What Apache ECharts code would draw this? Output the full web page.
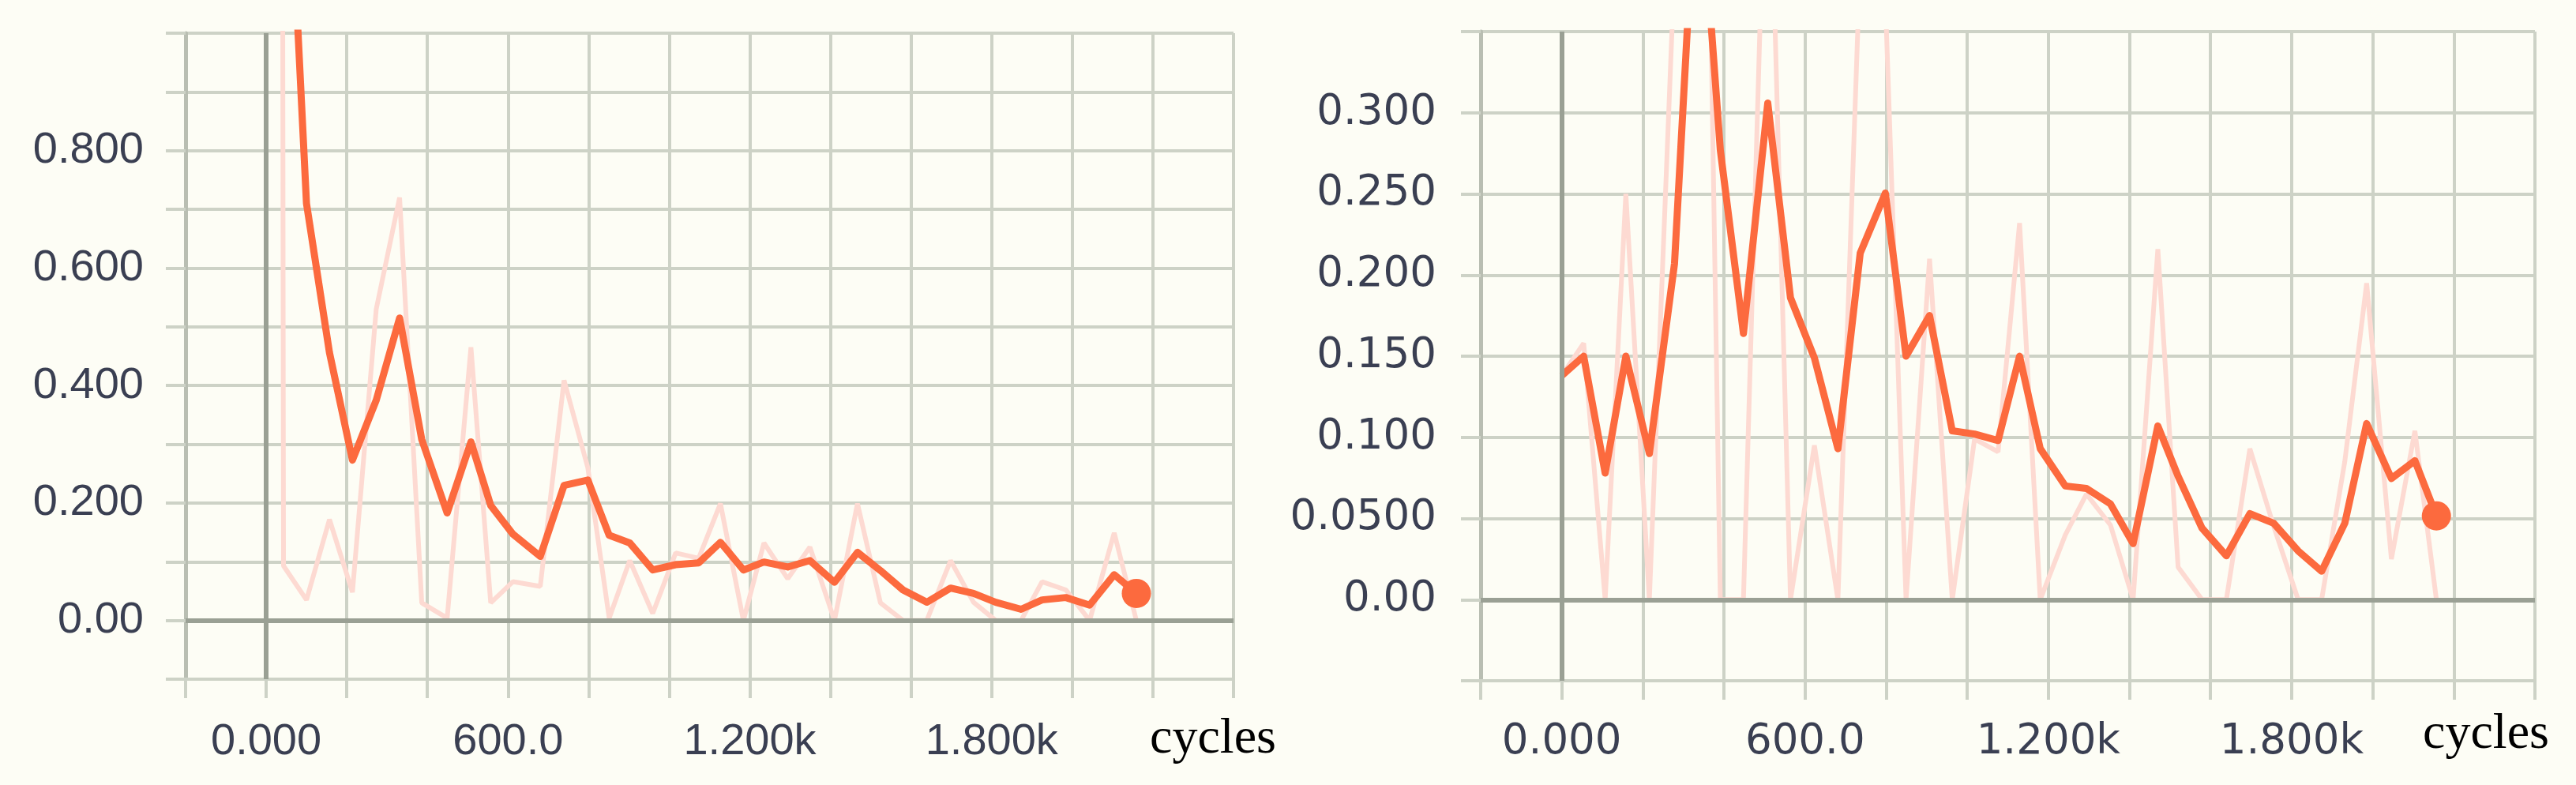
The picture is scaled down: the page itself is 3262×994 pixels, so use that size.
<!DOCTYPE html>
<html>
<head>
<meta charset="utf-8">
<script src="https://cdn.jsdelivr.net/npm/echarts@6/dist/echarts.min.js"></script>
<style>
  html, body { margin: 0; padding: 0; background: #fdfdf5; }
  #chart { width: 3262px; height: 994px; }
</style>
</head>
<body>
<div id="chart"></div>
<script>
// left panel
var leftSteps = [37, 43, 100, 157, 214, 273, 331, 386, 449, 508, 557, 612, 680, 739, 798, 851, 902, 959, 1016, 1073,
  1127, 1184, 1235, 1294, 1349, 1410, 1467, 1524, 1580, 1639, 1698, 1755, 1810, 1873, 1925, 1984, 2043, 2104, 2159]
var leftRaw = [3.0, 0.093, 0.035, 0.172, 0.048, 0.53, 0.72, 0.03, 0.004, 0.465, 0.03, 0.066, 0.058, 0.409, 0.26, 0.004, 0.102, 0.012, 0.115, 0.106,
  0.199, 0.0, 0.132, 0.071, 0.125, 0.0, 0.199, 0.03, 0.0, 0.0, 0.102, 0.031, 0.0, 0.0, 0.066, 0.052, 0.0, 0.149, 0.0]
var leftSmooth = [3.0, 1.5, 0.71, 0.456, 0.273, 0.375, 0.515, 0.308, 0.183, 0.304, 0.196, 0.147, 0.109, 0.230, 0.239, 0.145, 0.132, 0.086, 0.095, 0.098,
  0.133, 0.086, 0.0995, 0.091, 0.102, 0.065, 0.116, 0.085, 0.052, 0.031, 0.055, 0.046, 0.031, 0.019, 0.035, 0.039, 0.026, 0.078, 0.046]
var leftYTicks = [0, 0.2, 0.4, 0.6, 0.8]
var leftYLabels = ['0.00', '0.200', '0.400', '0.600', '0.800']

// right panel
var rightSteps = [0, 54, 107, 158, 216, 278, 335, 391, 448, 508, 564, 623, 681, 736, 798, 849, 907, 963, 1018, 1076,
  1129, 1180, 1242, 1294, 1353, 1409, 1470, 1520, 1579, 1639, 1697, 1756, 1816, 1874, 1931, 1985, 2046, 2104, 2157]
var rightRaw = [0.138, 0.158, 0.0, 0.25, 0.0, 0.39, 0.86, 0.0, 0.0, 0.52, 0.0, 0.095, 0.0, 0.394, 0.37, 0.0, 0.21, 0.0, 0.099, 0.091,
  0.232, 0.0, 0.04, 0.065, 0.046, 0.0, 0.216, 0.02, 0.0, 0.0, 0.093, 0.045, 0.0, 0.0, 0.085, 0.195, 0.025, 0.104, 0.0]
var rightSmooth = [0.138, 0.150, 0.078, 0.150, 0.090, 0.207, 0.468, 0.277, 0.164, 0.306, 0.186, 0.149, 0.093, 0.2135, 0.2505, 0.150, 0.175, 0.104, 0.102, 0.098,
  0.150, 0.093, 0.070, 0.0685, 0.059, 0.0345, 0.107, 0.076, 0.044, 0.027, 0.053, 0.047, 0.030, 0.0175, 0.047, 0.1085, 0.0746, 0.0856, 0.0516]
var rightYTicks = [0, 0.05, 0.1, 0.15, 0.2, 0.25, 0.3]
var rightYLabels = ['0.00', '0.0500', '0.100', '0.150', '0.200', '0.250', '0.300']

// shared x ticks
var xTicks = [0, 600, 1200, 1800]
var xLabels = ['0.000', '600.0', '1.200k', '1.800k']
var xName = 'cycles'

var gridColor = '#cdd2c6'
var zeroColor = '#9aa094'
var labelColor = '#3a3f52'
var smoothColor = '#fc6a3e'
var rawColor = '#fddad2'

function pick(ticks, labels) {
  return function (v) {
    for (var i = 0; i < ticks.length; i++) {
      if (Math.abs(ticks[i] - v) < 1e-9) return labels[i]
    }
    return ''
  }
}

function zip(xs, ys) {
  return xs.map(function (x, i) { return [x, ys[i]] })
}

function xAxisOf(idx, font, size) {
  return {
    gridIndex: idx, type: 'value', min: -200, max: 2400, interval: 200,
    axisLine: { show: true, onZero: false, lineStyle: { color: gridColor, width: 4 } },
    axisTick: { show: true, length: 24, lineStyle: { color: gridColor, width: 4 } },
    splitLine: { show: true, lineStyle: { color: gridColor, width: 4 } },
    axisLabel: { color: labelColor, fontFamily: font, fontSize: size, margin: 52, formatter: pick(xTicks, xLabels) }
  }
}

function yAxisOf(idx, min, max, interval, ticks, labels, font, size, margin) {
  return {
    gridIndex: idx, type: 'value', min: min, max: max, interval: interval,
    axisLine: { show: true, onZero: false, lineStyle: { color: '#b9beb2', width: 5 } },
    axisTick: { show: true, length: 25, lineStyle: { color: gridColor, width: 4 } },
    splitLine: { show: true, lineStyle: { color: gridColor, width: 4 } },
    axisLabel: { color: labelColor, fontFamily: font, fontSize: size, margin: margin, formatter: pick(ticks, labels) }
  }
}

function panelSeries(idx, steps, raw, smooth) {
  var last = steps.length - 1
  return [
    {
      type: 'line', xAxisIndex: idx, yAxisIndex: idx, data: [], z: 1, silent: true,
      markLine: {
        symbol: 'none', silent: true, animation: false, label: { show: false },
        lineStyle: { color: zeroColor, width: 6, type: 'solid', opacity: 1 },
        data: [{ xAxis: 0 }, { yAxis: 0 }]
      }
    },
    {
      type: 'line', xAxisIndex: idx, yAxisIndex: idx, data: zip(steps, raw), z: 2,
      showSymbol: false, symbol: 'none', silent: true,
      lineStyle: { color: rawColor, width: 6 }
    },
    {
      type: 'line', xAxisIndex: idx, yAxisIndex: idx, data: zip(steps, smooth), z: 3,
      showSymbol: false, symbol: 'none', silent: true,
      lineStyle: { color: smoothColor, width: 9, join: 'round' }
    },
    {
      type: 'scatter', xAxisIndex: idx, yAxisIndex: idx, data: [[steps[last], smooth[last]]], z: 4,
      symbolSize: 37, silent: true, itemStyle: { color: smoothColor, opacity: 1 }
    }
  ]
}

var chart = echarts.init(document.getElementById('chart'))
chart.setOption({
  backgroundColor: '#fdfdf5',
  animation: false,
  grid: [
    { left: 235, right: 1700, top: 42, bottom: 134 },
    { left: 1875, right: 52, top: 40, bottom: 132 }
  ],
  xAxis: [
    xAxisOf(0, '"Liberation Sans", Arial, sans-serif', 56),
    xAxisOf(1, '"DejaVu Sans", sans-serif', 53)
  ],
  yAxis: [
    yAxisOf(0, -0.1, 1.0, 0.1, leftYTicks, leftYLabels, '"Liberation Sans", Arial, sans-serif', 56, 53),
    yAxisOf(1, -0.05, 0.35, 0.05, rightYTicks, rightYLabels, '"DejaVu Sans", sans-serif', 53, 56)
  ],
  series: panelSeries(0, leftSteps, leftRaw, leftSmooth).concat(panelSeries(1, rightSteps, rightRaw, rightSmooth)),
  graphic: [
    { type: 'text', x: 1536, y: 936, style: { text: xName, fontFamily: '"Liberation Serif", serif', fontSize: 64, fill: '#000', align: 'center', verticalAlign: 'middle' } },
    { type: 'text', x: 3148, y: 930, style: { text: xName, fontFamily: '"Liberation Serif", serif', fontSize: 64, fill: '#000', align: 'center', verticalAlign: 'middle' } }
  ]
})
</script>
</body>
</html>
